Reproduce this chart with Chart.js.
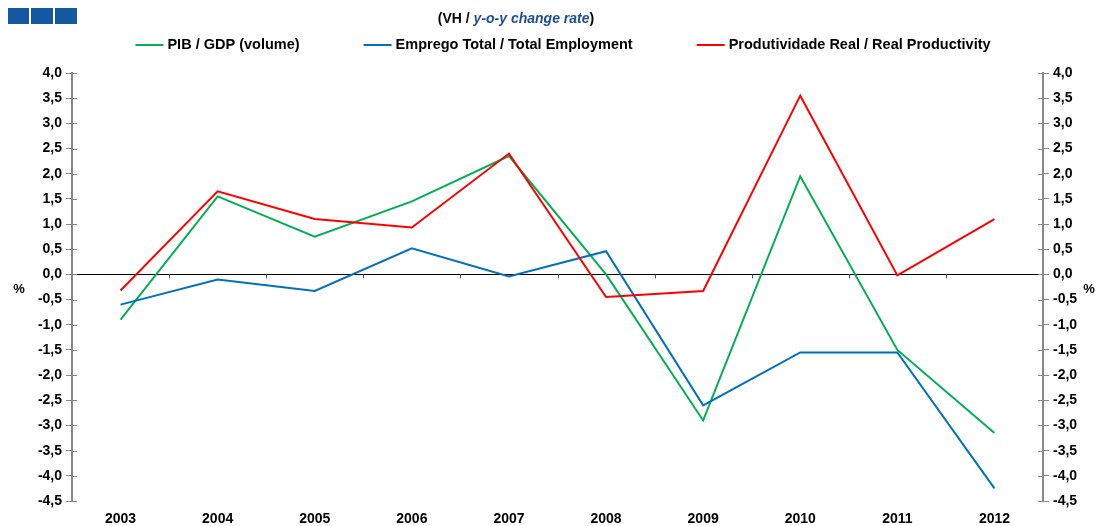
<!DOCTYPE html>
<html>
<head>
<meta charset="utf-8">
<script src="https://cdn.jsdelivr.net/npm/chart.js@4.4.1/dist/chart.umd.min.js"></script>
<style>
	html, body { margin: 0; padding: 0; background: #fff; }
	#wrap { width: 1096px; height: 526px; position: relative; }
</style>
</head>
<body>
<div id="wrap"><canvas id="myChart" width="1096" height="526"></canvas></div>
<script>
// dados
var years = ['2003', '2004', '2005', '2006', '2007', '2008', '2009', '2010', '2011', '2012'];
var gdp = [-0.9, 1.55, 0.75, 1.45, 2.35, 0.0, -2.9, 1.95, -1.5, -3.15];
var employment = [-0.6, -0.1, -0.33, 0.52, -0.04, 0.46, -2.6, -1.55, -1.55, -4.25];
var productivity = [-0.32, 1.65, 1.1, 0.93, 2.4, -0.45, -0.33, 3.55, -0.02, 1.1];
var seriesNames = ['PIB / GDP (volume)', 'Emprego Total / Total Employment', 'Produtividade Real / Real Productivity'];

var fontFamily = '"Liberation Sans", Arial, sans-serif';

function fmt(v) {
	return v.toFixed(1).replace('.', ',');
}

// titulo, legenda, quadrados azuis, "%" e marcas
var extras = {
	id: 'extras',
	afterDraw: function(chart) {
		var ctx = chart.ctx;
		var x = chart.scales.x;
		var y = chart.scales.y;
		ctx.save();

		// quadrados
		ctx.fillStyle = '#14589f';
		ctx.fillRect(8, 8, 21, 16);
		ctx.fillRect(31, 8, 22, 16);
		ctx.fillRect(55, 8, 22, 16);

		// titulo
		ctx.textBaseline = 'middle';
		var p1 = '(VH / ';
		var p2 = 'y-o-y change rate';
		var p3 = ')';
		ctx.font = 'bold 14px ' + fontFamily;
		var w1 = ctx.measureText(p1).width;
		var w3 = ctx.measureText(p3).width;
		ctx.font = 'italic bold 14px ' + fontFamily;
		var w2 = ctx.measureText(p2).width;
		var tx = 516 - (w1 + w2 + w3) / 2;
		ctx.textAlign = 'left';
		ctx.fillStyle = '#000';
		ctx.font = 'bold 14px ' + fontFamily;
		ctx.fillText(p1, tx, 19);
		ctx.fillStyle = '#1a4f96';
		ctx.font = 'italic bold 14px ' + fontFamily;
		ctx.fillText(p2, tx + w1, 19);
		ctx.fillStyle = '#000';
		ctx.font = 'bold 14px ' + fontFamily;
		ctx.fillText(p3, tx + w1 + w2, 19);

		// legenda
		var ds = chart.data.datasets;
		ctx.font = 'bold 14.5px ' + fontFamily;
		var lineW = 28, gapT = 4, gapItem = 64;
		var widths = ds.map(function(d) { return lineW + gapT + ctx.measureText(d.label).width; });
		var total = widths.reduce(function(a, b) { return a + b; }, 0) + gapItem * (ds.length - 1);
		var lx = 563 - total / 2;
		for (var k = 0; k < ds.length; k++) {
			ctx.strokeStyle = ds[k].borderColor;
			ctx.lineWidth = 2;
			ctx.beginPath();
			ctx.moveTo(lx, 45);
			ctx.lineTo(lx + lineW, 45);
			ctx.stroke();
			ctx.fillStyle = '#000';
			ctx.fillText(ds[k].label, lx + lineW + gapT, 45);
			lx += widths[k] + gapItem;
		}

		// "%"
		ctx.font = 'bold 13px ' + fontFamily;
		ctx.textAlign = 'center';
		ctx.fillText('%', 19, y.getPixelForValue(-0.3));
		ctx.fillText('%', 1089, y.getPixelForValue(-0.3));

		// marcas internas dos eixos y
		ctx.strokeStyle = '#888';
		ctx.lineWidth = 1;
		ctx.beginPath();
		y.ticks.forEach(function(t) {
			var py = Math.round(y.getPixelForValue(t.value)) + 0.5;
			ctx.moveTo(y.right, py);
			ctx.lineTo(y.right + 5, py);
			ctx.moveTo(chart.scales.y1.left - 5, py);
			ctx.lineTo(chart.scales.y1.left, py);
		});
		ctx.stroke();

		// marcas entre categorias na linha zero
		var y0 = y.getPixelForValue(0);
		ctx.strokeStyle = '#555';
		ctx.beginPath();
		for (var i = 1; i < years.length; i++) {
			var px = Math.round((x.getPixelForValue(i - 1) + x.getPixelForValue(i)) / 2) + 0.5;
			ctx.moveTo(px, y0);
			ctx.lineTo(px, y0 + 4);
		}
		ctx.stroke();
		ctx.restore();
	}
};

function yTicks() {
	return {
		stepSize: 0.5,
		color: '#000',
		font: { family: fontFamily, size: 14, weight: 'bold' },
		padding: 4,
		callback: function(v) { return fmt(v); }
	};
}

var ctx = document.getElementById('myChart').getContext('2d');
var myChart = new Chart(ctx, {
	type: 'line',
	data: {
		labels: years,
		datasets: [
			{
				label: seriesNames[0],
				data: gdp,
				borderColor: '#00b050',
				backgroundColor: '#00b050',
				borderWidth: 2,
				pointRadius: 0,
				tension: 0,
				order: 2
			},
			{
				label: seriesNames[1],
				data: employment,
				borderColor: '#0070c0',
				backgroundColor: '#0070c0',
				borderWidth: 2,
				pointRadius: 0,
				tension: 0,
				order: 1
			},
			{
				label: seriesNames[2],
				data: productivity,
				borderColor: '#ff0000',
				backgroundColor: '#ff0000',
				borderWidth: 2,
				pointRadius: 0,
				tension: 0,
				order: 0
			}
		]
	},
	options: {
		responsive: false,
		animation: false,
		layout: {
			padding: { left: 22, right: 8, top: 73, bottom: 0 }
		},
		plugins: {
			title: { display: false },
			tooltip: { enabled: false },
			legend: { display: false }
		},
		scales: {
			x: {
				offset: true,
				grid: { display: false },
				border: { display: false },
				afterFit: function(s) { s.height = 25; },
				ticks: {
					color: '#000',
					padding: 2,
					maxRotation: 0,
					font: { family: fontFamily, size: 14, weight: 'bold' }
				}
			},
			y: {
				position: 'left',
				min: -4.5,
				max: 4,
				afterFit: function(s) { s.width = 50; },
				border: { color: '#888', width: 2 },
				grid: {
					drawOnChartArea: true,
					tickLength: 6,
					tickColor: '#888',
					color: function(c) { return c.tick && c.tick.value === 0 ? '#000' : 'rgba(0,0,0,0)'; }
				},
				ticks: yTicks()
			},
			y1: {
				position: 'right',
				min: -4.5,
				max: 4,
				afterFit: function(s) { s.width = 45; },
				border: { color: '#888', width: 2 },
				grid: { drawOnChartArea: false, tickLength: 6, tickColor: '#888' },
				ticks: yTicks()
			}
		}
	},
	plugins: [extras]
});
</script>
</body>
</html>
